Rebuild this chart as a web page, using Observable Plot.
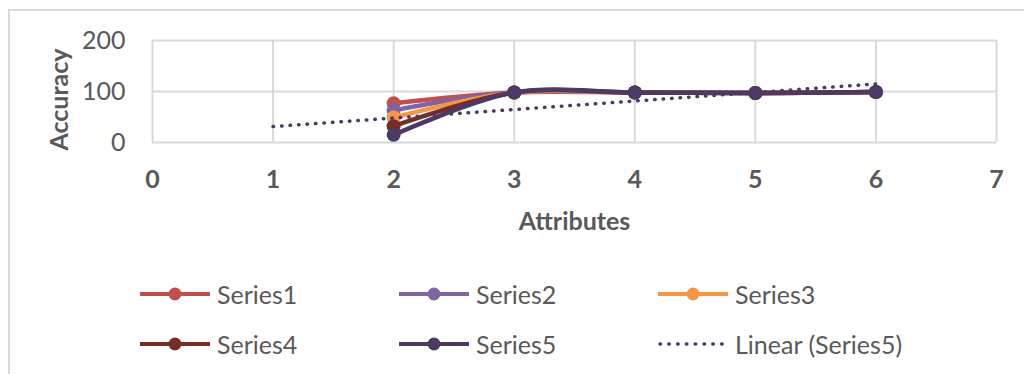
<!DOCTYPE html>
<html>
<head>
<meta charset="utf-8">
<script src="https://cdn.jsdelivr.net/npm/d3@7"></script>
<script src="https://cdn.jsdelivr.net/npm/@observablehq/plot@0.6"></script>
<style>
  html, body { margin: 0; padding: 0; background: #fff; overflow: hidden; }
  #wrap { position: relative; width: 1024px; height: 374px; font-family: Lato, "Open Sans", sans-serif; color: #595959; }
  #frame { position: absolute; left: 8px; top: 9px; width: 1040px; height: 400px; border: 2px solid #d9d9d9; box-sizing: border-box; }
  #chart { position: absolute; left: 0; top: 0; }
  #chart g[aria-label="x-axis tick label"],
  #chart g[aria-label="x-axis label"],
  #chart g[aria-label="y-axis label"] { font-weight: 700; }
  .item { position: absolute; display: flex; align-items: center; height: 30px; font-size: 25px; white-space: nowrap; }
  .item svg { flex: none; margin-right: 7px; }
</style>
</head>
<body>
<div id="wrap">
  <div id="frame"></div>
  <div id="chart"></div>
  <div id="legend"></div>
</div>
<script>
// Number of attributes used on the x axis
const attributes = [2, 3, 4, 5, 6];

// Accuracy for each series
const series1 = [77, 98, 98, 97, 99];
const series2 = [63, 98, 98, 97, 99];
const series3 = [49, 98, 98, 97, 99];
const series4 = [32, 98, 98, 97, 99];
const series5 = [15, 98, 98, 97, 99];

const seriesNames = ["Series1", "Series2", "Series3", "Series4", "Series5"];
const seriesValues = [series1, series2, series3, series4, series5];
const seriesColors = ["#C0504D", "#8064A2", "#F79646", "#772C2A", "#4B3A63"];

// Linear trendline of Series5, extended back to x = 1
const trendName = "Linear (Series5)";
const trendRange = [1, 6];

const xTicks = [0, 1, 2, 3, 4, 5, 6, 7];
const yTicks = [0, 100, 200];

// Long-format rows for the library
const rows = seriesNames.flatMap((name, i) =>
  attributes.map((a, j) => ({series: name, x: a, y: seriesValues[i][j]}))
);

// Least-squares fit of Series5
const mx = d3.mean(attributes), my = d3.mean(series5);
const slope = d3.sum(attributes, (a, j) => (a - mx) * (series5[j] - my)) /
              d3.sum(attributes, a => (a - mx) ** 2);
const intercept = my - slope * mx;
const trendRows = trendRange.map(x => ({x, y: intercept + slope * x}));

const grid = {stroke: "#d9d9d9", strokeOpacity: 1, strokeWidth: 2};

const seriesMarks = seriesNames.flatMap((name, i) => {
  const data = rows.filter(d => d.series === name);
  return [
    Plot.line(data, {x: "x", y: "y", stroke: seriesColors[i], strokeWidth: 4.5, curve: "catmull-rom"}),
    Plot.dot(data, {x: "x", y: "y", r: 7, fill: seriesColors[i]})
  ];
});

const chart = Plot.plot({
  width: 1024,
  height: 240,
  marginLeft: 152,
  marginRight: 28,
  marginTop: 40,
  marginBottom: 98,
  style: {fontFamily: "Lato, 'Open Sans', sans-serif", fontSize: "25px", color: "#595959", background: "transparent", overflow: "visible"},
  x: {domain: [0, 7]},
  y: {domain: [0, 200]},
  marks: [
    Plot.gridX(xTicks, grid),
    Plot.gridY(yTicks, grid),
    Plot.axisX({ticks: xTicks, tickFormat: d3.format("d"), tickSize: 0, tickPadding: 28, label: "Attributes", labelAnchor: "center", labelArrow: "none", labelOffset: 87}),
    Plot.axisY({ticks: yTicks, tickFormat: d3.format("d"), tickSize: 0, tickPadding: 27, label: "Accuracy", labelAnchor: "center", labelArrow: "none", labelOffset: 102}),
    ...seriesMarks,
    Plot.line(trendRows, {x: "x", y: "y", stroke: seriesColors[4], strokeWidth: 3.5, strokeDasharray: "0.5 8", strokeLinecap: "round"})
  ]
});
document.getElementById("chart").append(chart);

// The vertical axis title sits a little below the plot's centre line
const yLabel = d3.select(chart).select('g[aria-label="y-axis label"]');
yLabel.attr("transform", `translate(0,8) ${yLabel.attr("transform") || ""}`);

// Legend below the chart
const legendCols = [140, 399, 658];
const legendRows = [294, 344];
const legendEntries = [
  ...seriesNames.map((name, i) => ({label: name, color: seriesColors[i], trend: false})),
  {label: trendName, color: seriesColors[4], trend: true}
];
const legend = d3.select("#legend");
legendEntries.forEach((e, k) => {
  const item = legend.append("div").attr("class", "item")
    .style("left", legendCols[k % 3] + "px")
    .style("top", (legendRows[Math.floor(k / 3)] - 15) + "px");
  const sw = item.append("svg").attr("width", 70).attr("height", 20);
  if (e.trend) {
    sw.append("line").attr("x1", 2).attr("x2", 68).attr("y1", 10).attr("y2", 10)
      .attr("stroke", e.color).attr("stroke-width", 3.5)
      .attr("stroke-dasharray", "0.5 8.3").attr("stroke-linecap", "round");
  } else {
    sw.append("line").attr("x1", 0).attr("x2", 70).attr("y1", 10).attr("y2", 10)
      .attr("stroke", e.color).attr("stroke-width", 4).attr("stroke-linecap", "round");
    sw.append("circle").attr("cx", 35).attr("cy", 10).attr("r", 6.5).attr("fill", e.color);
  }
  item.append("span").text(e.label);
});
</script>
</body>
</html>
